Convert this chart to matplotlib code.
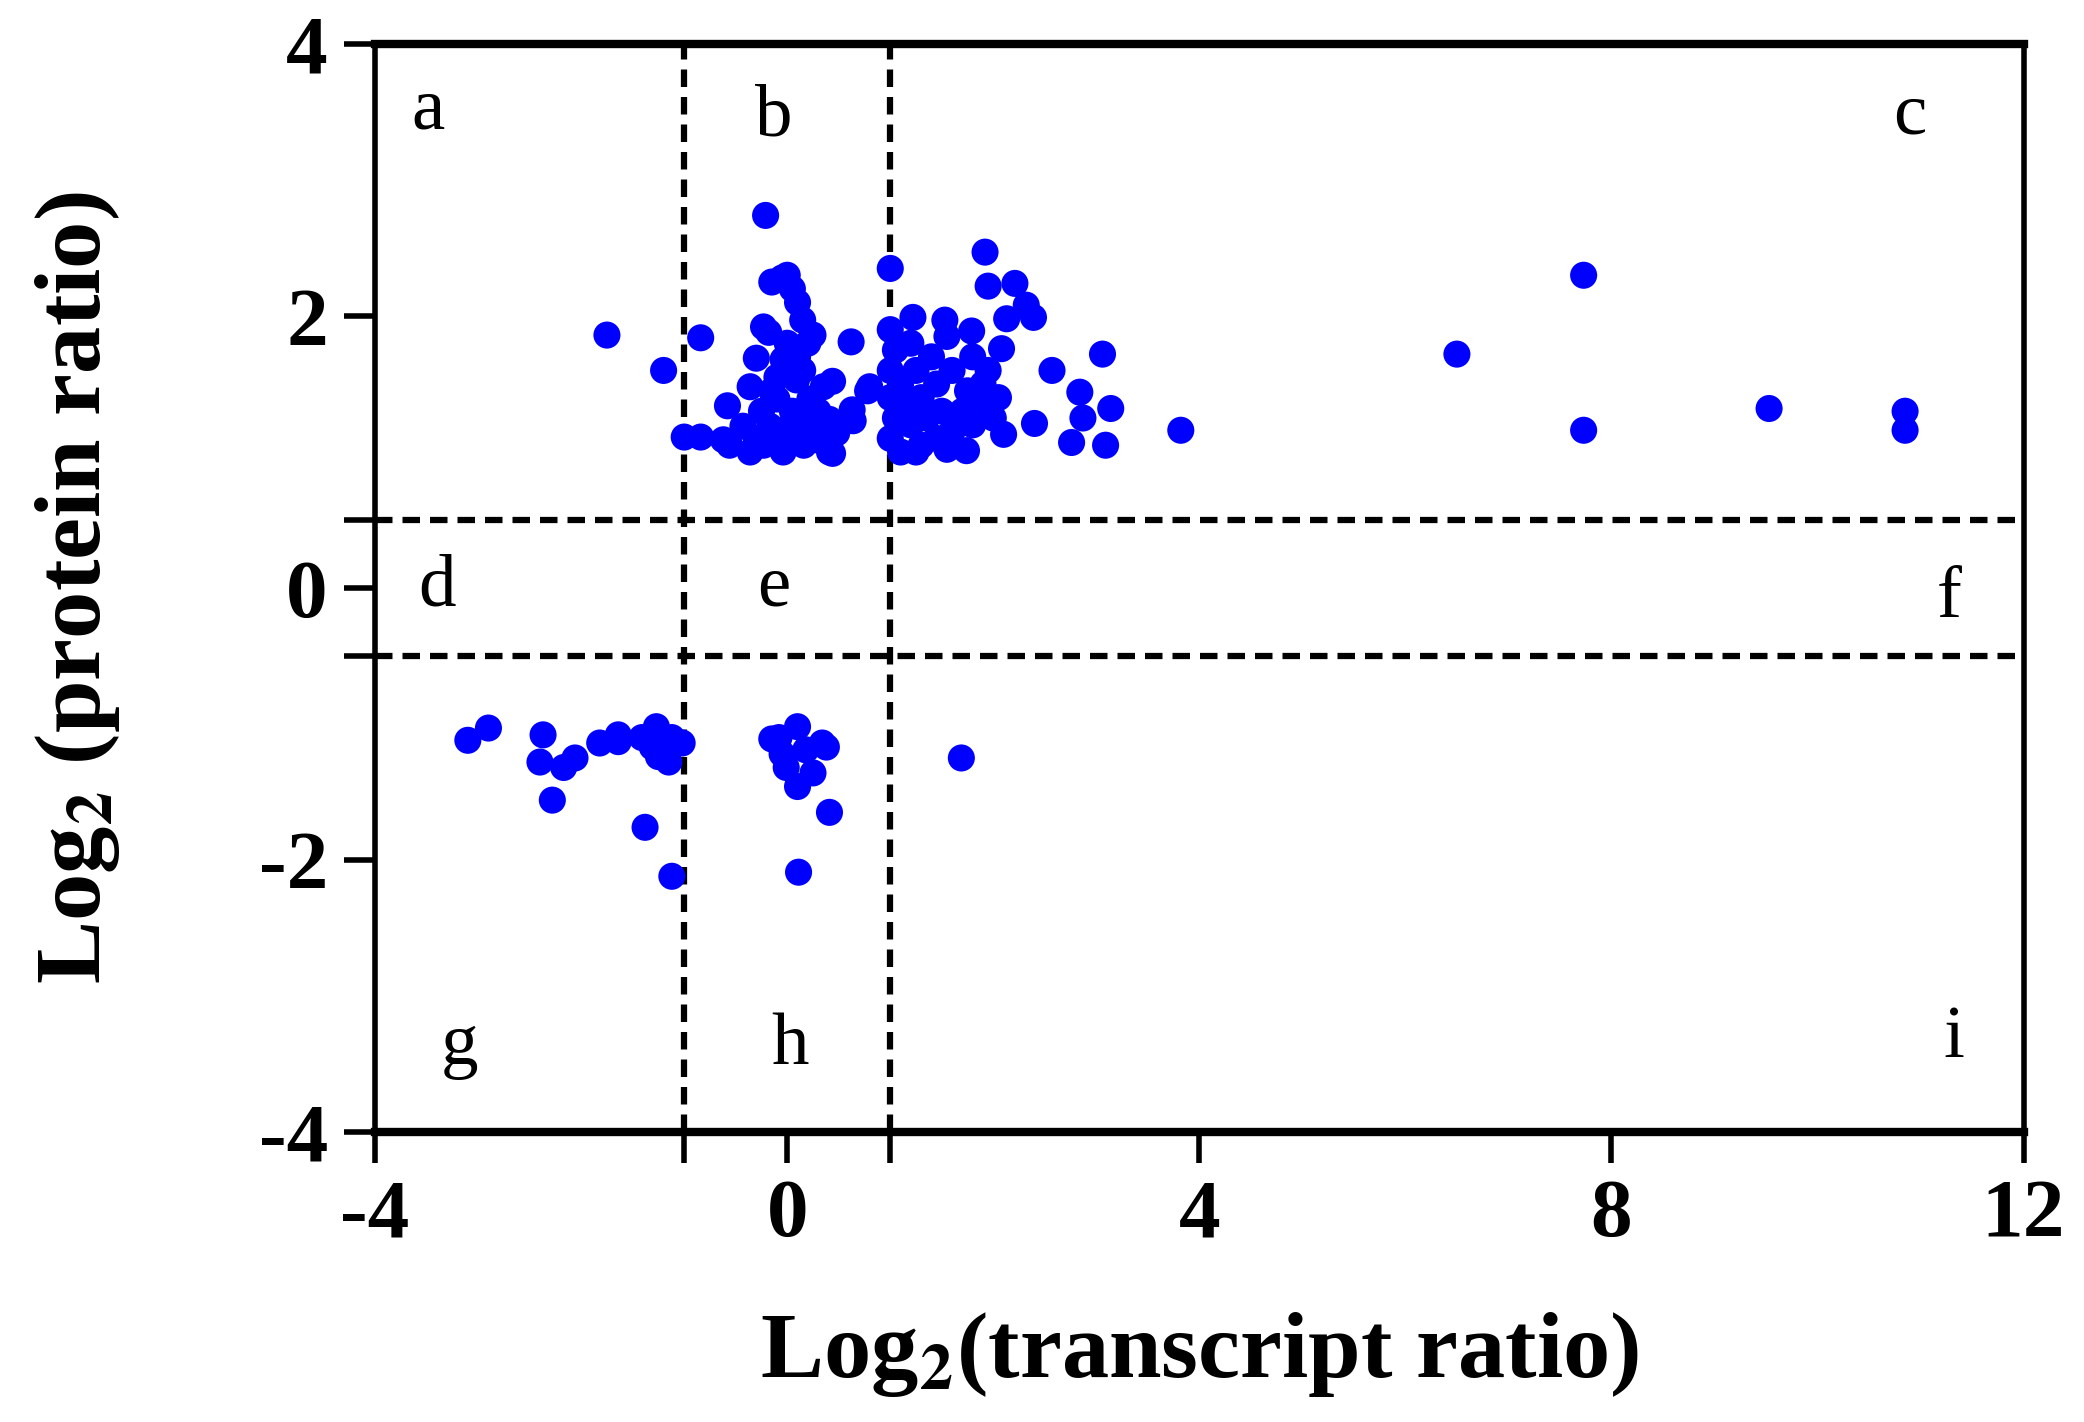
import matplotlib
matplotlib.use("Agg")
import matplotlib.pyplot as plt
from matplotlib.ticker import FixedLocator

plt.rcParams['font.family'] = ['Liberation Serif', 'DejaVu Serif']
plt.rcParams['mathtext.fontset'] = 'stix'
plt.rcParams['axes.unicode_minus'] = False

# log2 transcript ratio
transcript = [
    -1.75, -1.2, -0.84, -1.0, -0.84, -0.21,
    -0.05, -0.15, 0.0, 0.05, 0.1, 0.15, 0.25,
    0.62, 1.0, 0.78, -0.58, -0.56, -0.62, -0.3, -0.18, 0.44, 0.64, 0.44,
    -0.43, -0.36, -0.36, -0.23, -0.17, -0.1, -0.04, -0.04, 0.03, 0.09,
    0.16, 0.22, 0.28, 0.35, 0.41, 0.48, 0.41, 0.63, 0.8, -0.23, 0.0,
    0.1, -0.1, 0.05, -0.25, 0.2, 0.15, -0.05, 0.3, -0.3, 0.2, -0.15,
    1.92, 1.95, 2.21, 2.32, 2.39, 2.13, 1.79, 1.53, 1.22, 2.08, 1.8,
    2.57, 3.06, 2.84, 3.14, 2.87, 2.76, 3.09, 2.4, 2.1, 1.74, 3.82,
    1.0, 1.05, 1.0, 1.1, 1.0, 1.05, 1.0, 1.1, 1.2, 1.25, 1.3, 1.2, 1.3,
    1.4, 1.45, 1.5, 1.45, 1.55, 1.6, 1.6, 1.15, 1.35, 1.25, 1.55,
    1.75, 1.85, 1.9, 2.0, 1.8, 1.95, 1.7, 2.05,
    6.5, 7.73, 7.73, 9.53, 10.85, 10.85,
    -3.1, -2.9, -2.37, -2.4, -2.17, -2.06, -2.28, -1.82, -1.64, -1.64,
    -1.38, -1.12, -1.41, -1.27, -1.12, -1.02, -1.25, -1.15, -1.31,
    -0.08, 0.1, 0.34, -0.05, 0.18, -0.01, 0.25, 0.1, -0.15, 0.38,
    0.41, 0.11, 1.69,
]
# log2 protein ratio
protein = [
    1.86, 1.6, 1.84, 1.11, 1.11, 2.74,
    2.28, 2.25, 2.3, 2.2, 2.1, 1.97, 1.86,
    1.81, 2.35, 1.45, 1.34, 1.05, 1.09, 1.69, 1.88, 1.52, 1.23, 0.99,
    1.19, 1.0, 1.48, 1.05, 1.19, 1.39, 1.68, 1.0, 1.19, 1.53,
    1.05, 1.39, 1.09, 1.48, 1.24, 1.14, 1.0, 1.31, 1.48, 1.92, 1.8,
    1.7, 1.55, 1.3, 1.3, 1.2, 1.6, 1.1, 1.3, 1.1, 1.8, 1.45,
    2.47, 2.22, 2.24, 2.08, 1.99, 1.98, 1.89, 1.97, 1.99, 1.76, 1.7,
    1.6, 1.72, 1.44, 1.32, 1.25, 1.07, 1.05, 1.21, 1.13, 1.01, 1.16,
    1.9, 1.75, 1.6, 1.5, 1.4, 1.25, 1.1, 1.0, 1.8, 1.6, 1.4, 1.2, 1.05,
    1.7, 1.5, 1.3, 1.1, 1.85, 1.6, 1.15, 1.35, 1.25, 1.0, 1.02,
    1.45, 1.35, 1.5, 1.25, 1.2, 1.6, 1.3, 1.4,
    1.72, 2.30, 1.16, 1.32, 1.30, 1.16,
    -1.12, -1.03, -1.08, -1.28, -1.32, -1.25, -1.56, -1.14, -1.08, -1.13,
    -1.76, -2.12, -1.10, -1.02, -1.10, -1.14, -1.24, -1.28, -1.17,
    -1.10, -1.02, -1.14, -1.22, -1.19, -1.32, -1.36, -1.46, -1.11, -1.17,
    -1.65, -2.09, -1.25,
]

region_labels = ['a', 'b', 'c', 'd', 'e', 'f', 'g', 'h', 'i']
label_x = [-3.49, -0.13, 10.9, -3.4, -0.13, 11.28, -3.18, 0.03, 11.32]
label_y = [3.51, 3.46, 3.47, 0.0, 0.0, -0.08, -3.37, -3.37, -3.32]

x_cuts = [-1, 1]
y_cuts = [-0.5, 0.5]

fig = plt.figure(figsize=(20.84, 14.22), dpi=100)
ax = fig.add_axes([0.180, 0.204, 0.791, 0.765])

dash = (0, (2.8, 1.6))
for xc in x_cuts:
    ax.axvline(xc, color='black', lw=4.5, linestyle=dash, zorder=1)
for yc in y_cuts:
    ax.axhline(yc, color='black', lw=4.5, linestyle=dash, zorder=1)

ax.scatter(transcript, protein, s=380, color='#0000ff', edgecolors='none', zorder=3)

for lab, lx, ly in zip(region_labels, label_x, label_y):
    ax.text(lx, ly, lab, fontsize=54, ha='center', va='center')

ax.set_xlim(-4, 12)
ax.set_ylim(-4, 4)
ax.set_xticks([-4, 0, 4, 8, 12])
ax.set_yticks([-4, -2, 0, 2, 4])
ax.xaxis.set_minor_locator(FixedLocator(x_cuts))
ax.yaxis.set_minor_locator(FixedLocator(y_cuts))
ax.tick_params(which='both', direction='out', length=22, width=4, labelsize=60, pad=12)
for t in ax.get_xticklabels() + ax.get_yticklabels():
    t.set_fontweight('bold')

ax.spines['top'].set_linewidth(6)
ax.spines['bottom'].set_linewidth(6)
ax.spines['left'].set_linewidth(4)
ax.spines['right'].set_linewidth(4)

ax.set_xlabel(r'Log$_\mathbf{2}$(transcript ratio)', fontsize=68, fontweight='bold', labelpad=40)
ax.set_ylabel(r'Log$_\mathbf{2}$ (protein ratio)', fontsize=68, fontweight='bold', labelpad=98)

fig.savefig('out.png', dpi=100)
